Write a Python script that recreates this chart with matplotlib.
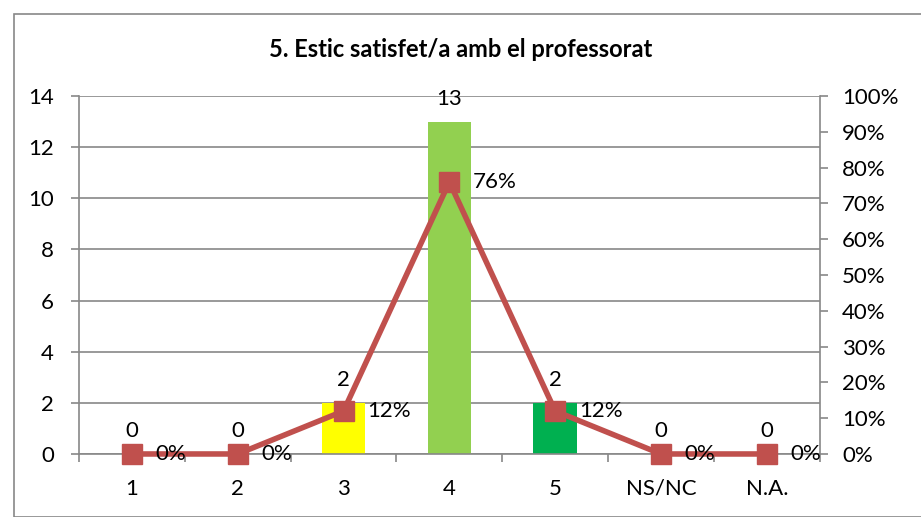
import matplotlib.pyplot as plt
from matplotlib.patches import Rectangle
import numpy as np

plt.rcParams['font.family'] = ['Lato', 'DejaVu Sans']

categories = ['1', '2', '3', '4', '5', 'NS/NC', 'N.A.']
counts = [0, 0, 2, 13, 2, 0, 0]
percents = [0, 0, 12, 76, 12, 0, 0]
bar_colors = ['#FFFF00', '#FFFF00', '#FFFF00', '#92D050', '#00B050', '#00B050', '#00B050']
title = '5. Estic satisfet/a amb el professorat'

line_color = '#C0504D'
grid_color = '#888888'
fs = 16

fig = plt.figure(figsize=(9.21, 5.17), dpi=100)
ax = fig.add_axes([0.0858, 0.1219, 0.8042, 0.6924])
x = np.arange(len(categories))

ax.bar(x, counts, width=0.41, color=bar_colors, zorder=2)
ax.set_xlim(-0.5, len(categories) - 0.5)
ax.set_ylim(0, 14)
ax.set_yticks(range(0, 15, 2))
ax.yaxis.grid(True, color=grid_color, linewidth=1.2, zorder=0)
ax.set_axisbelow(True)
ax.set_xticks(x)
ax.set_xticklabels(categories)
ax.set_xticks(np.arange(-0.5, len(categories), 1), minor=True)
ax.tick_params(axis='x', which='major', length=0, pad=18, labelsize=fs)
ax.tick_params(axis='x', which='minor', length=6, color=grid_color, width=1.2)
ax.tick_params(axis='y', length=6, color=grid_color, width=1.2, labelsize=fs, pad=12)
for s in ['top', 'right']:
    ax.spines[s].set_visible(False)
for s in ['left', 'bottom']:
    ax.spines[s].set_color(grid_color)
    ax.spines[s].set_linewidth(1.2)

for xi, c in zip(x, counts):
    ax.annotate(str(c), (xi, c), xytext=(0, 9), textcoords='offset points',
                ha='center', va='bottom', fontsize=fs)

ax2 = ax.twinx()
ax2.set_ylim(0, 100)
ax2.set_yticks(range(0, 101, 10))
ax2.set_yticklabels([f'{v}%' for v in range(0, 101, 10)])
ax2.tick_params(axis='y', length=6, color=grid_color, width=1.2, labelsize=fs, pad=10)
for s in ['top', 'left', 'bottom']:
    ax2.spines[s].set_visible(False)
ax2.spines['right'].set_color(grid_color)
ax2.spines['right'].set_linewidth(1.2)
ax2.plot(x, percents, color=line_color, linewidth=4, marker='s', markersize=14,
         clip_on=False, zorder=3)
for xi, p in zip(x, percents):
    ax2.annotate(f'{p}%', (xi, p), xytext=(17, 0), textcoords='offset points',
                 ha='left', va='center', fontsize=fs)

fig.text(0.5, 0.905, title, ha='center', va='center', fontsize=17, fontweight='bold')
fig.patches.append(Rectangle((14 / 921, 0), 1, 1 - 14 / 517, transform=fig.transFigure,
                             fill=False, edgecolor='#888888', linewidth=1.2))

fig.savefig('out.png', dpi=100)
